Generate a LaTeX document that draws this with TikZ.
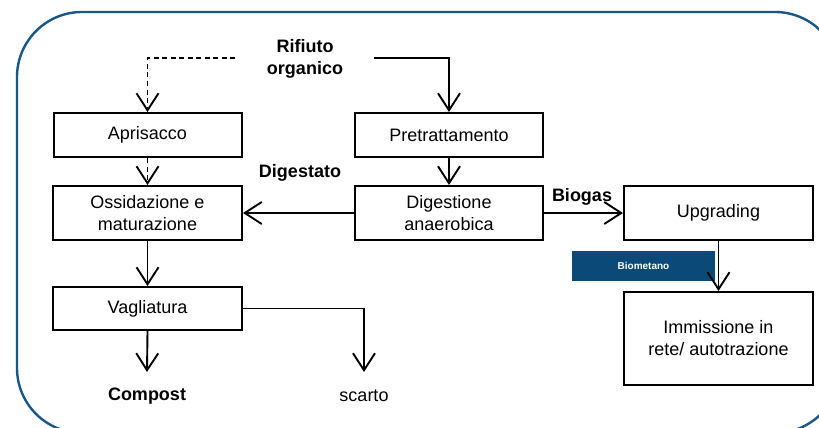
\documentclass[tikz,border=0pt]{standalone}
\usepackage{fontspec}
\setmainfont{Liberation Sans}
\usetikzlibrary{arrows.meta}
\definecolor{frameblue}{HTML}{17578A}
\definecolor{boxblue}{HTML}{0B4A78}
\begin{document}
\begin{tikzpicture}[x=1pt,y=-1pt,
  proc/.style={draw=black,line width=2pt,fill=white,align=center,font=\fontsize{18}{22}\selectfont,inner sep=0pt},
  lbl/.style={font=\fontsize{18}{22}\selectfont\bfseries,align=center,inner sep=0pt},
  flow/.style={line width=1.9pt,-{Straight Barb[length=17pt,width=22pt,line width=1.9pt]}},
  dflow/.style={flow,dash pattern=on 5pt off 3.5pt}]
\useasboundingbox (0,0) rectangle (819,428);
\begin{scope}
\clip (0,0) rectangle (819,428);
\draw[frameblue,line width=2.4pt,rounded corners=65pt] (17,12) rectangle (840,433);
\end{scope}
% boxes
\node[proc,minimum width=188pt,minimum height=44pt] (apr) at (147.5,135) {Aprisacco};
\node[proc,minimum width=188pt,minimum height=44pt] (pre) at (449,135) {Pretrattamento};
\node[proc,minimum width=189pt,minimum height=54pt] (oss) at (147.5,213) {Ossidazione e\\maturazione};
\node[proc,minimum width=188pt,minimum height=54pt] (dig) at (449,213) {Digestione\\anaerobica};
\node[proc,minimum width=189pt,minimum height=54pt] (upg) at (718.5,213) {Upgrading};
\node[proc,minimum width=189pt,minimum height=43pt] (vag) at (147.5,308.5) {Vagliatura};
\node[proc,minimum width=189pt,minimum height=93pt] (imm) at (718.5,338.5) {Immissione in\\rete/ autotrazione};
\node[fill=boxblue,minimum width=143pt,minimum height=30pt,inner sep=0pt,text=white,font=\fontsize{10}{12}\selectfont\bfseries] (bio) at (643.5,266) {Biometano};
% labels
\node[lbl] (rif) at (305,59) {Rifiuto\\organico};
\node[lbl] (dgs) at (300,173) {Digestato};
\node[lbl] (bgs) at (582,197) {Biogas};
\node[lbl] (cmp) at (147,396) {Compost};
\node[font=\fontsize{18}{22}\selectfont,inner sep=0pt] (sca) at (364,396) {scarto};
\coordinate (rL) at (235,58);
\coordinate (rR) at (374,58);
\coordinate (cE) at (147,372);
\coordinate (sE) at (364,372);
% connectors
\draw[dflow] (rL) -| (apr.north);
\draw[flow] (rR) -| (pre.north);
\draw[dflow] (apr.south) -- (oss.north);
\draw[flow] (pre.south) -- (dig.north);
\draw[flow] (dig.west) -- (oss.east);
\draw[flow] (dig.east) -- (upg.west);
\draw[flow] (upg.south) -- (imm.north);
\draw[flow] (oss.south) -- (vag.north);
\draw[flow] (vag.south) -- (cE);
\draw[flow] (vag.east) -| (sE);
\end{tikzpicture}
\end{document}
